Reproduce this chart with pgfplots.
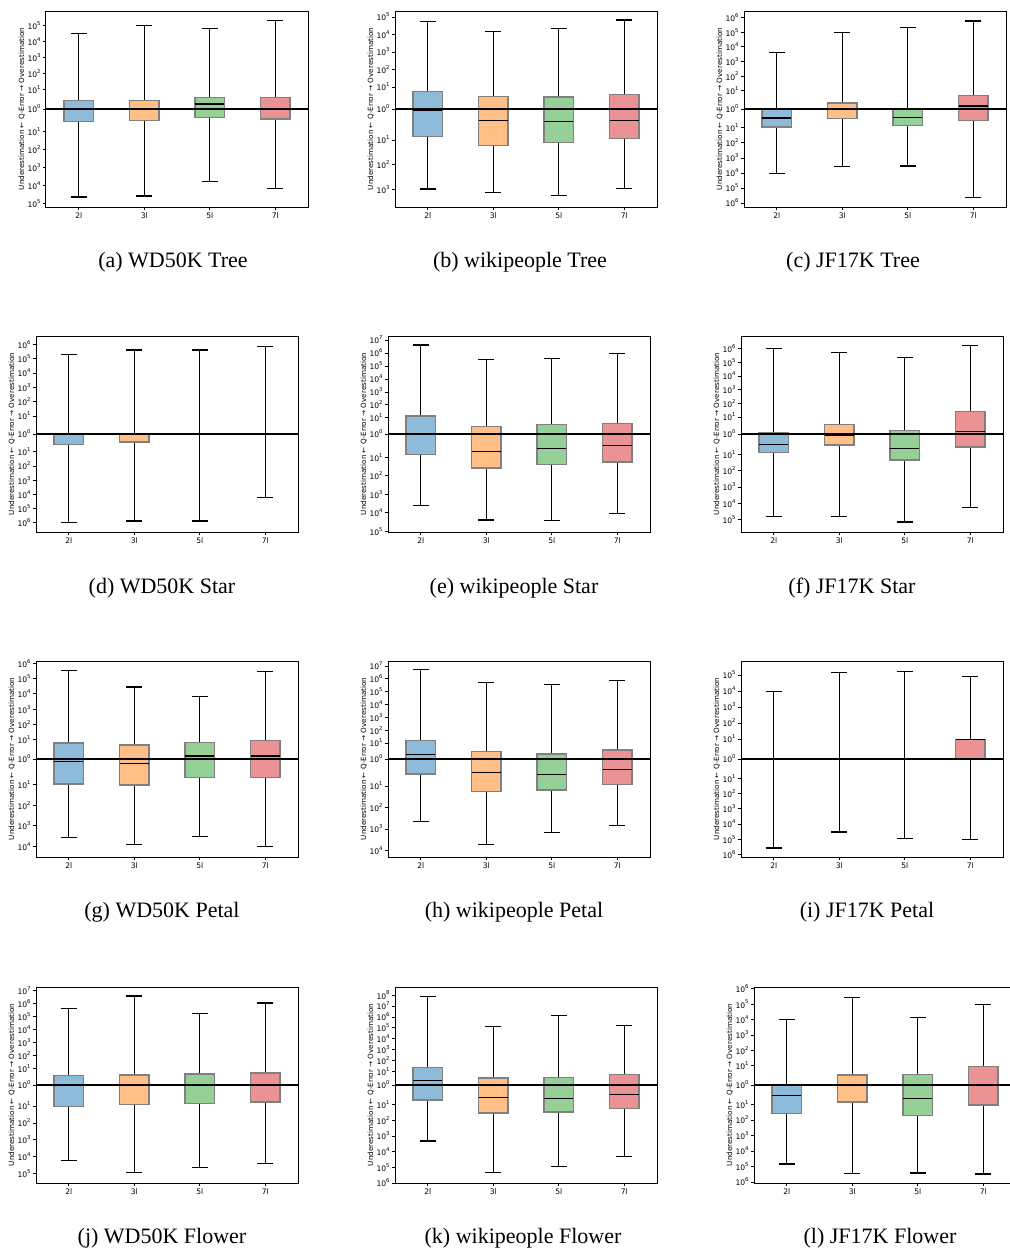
\documentclass[border=0pt]{standalone}
\usepackage{fontspec}
\setmainfont{Liberation Serif}
\newfontfamily\dv{DejaVu Sans}
\usepackage{pgfplots}
\pgfplotsset{compat=1.18}

\definecolor{cb}{RGB}{143,187,218}
\definecolor{co}{RGB}{255,191,134}
\definecolor{cg}{RGB}{150,208,150}
\definecolor{cred}{RGB}{235,147,148}

% values are signed log10 of the q-error (negative = underestimation)
% upper and lower halves of each panel are scaled separately (\Tu, \Tl)
\pgfplotsset{
  qax/.style={
    width=131pt, height=98pt, scale only axis, anchor=north west,
    xmin=0.5, xmax=4.5, xtick={1,2,3,4}, xticklabels={2l,3l,5l,7l},
    tick align=outside, tick pos=left, major tick length=1.4pt,
    tick style={black, line width=0.35pt},
    axis line style={line width=0.5pt},
    ticklabel style={font=\dv\fontsize{3.8}{4}\selectfont, inner sep=0.6pt},
    xticklabel style={inner sep=1.2pt},
    ylabel={Underestimation ← Q-Error → Overestimation},
    ylabel style={font=\dv\fontsize{3.6}{4}\selectfont, inner sep=0.5pt},
    y coord trafo/.code={\pgfmathparse{((##1)>=1)*((##1)+0.25)/\Tu+((##1)>=0)*((##1)<1)*1.25*(##1)/\Tu+((##1)<0)*((##1)+1>0)*1.25*(##1)/\Tl+((##1)+1<=0)*((##1)-0.25)/\Tl}},
  },
  qticks/.style 2 args={ytick={-#1,...,#2},
    yticklabel={\pgfmathtruncatemacro\k{abs(\ticknum-#1)}10\textsuperscript{\k}}},
}

\newcommand\qbox[7]{%
  \pgfmathsetmacro\bxl{#1-0.225}\pgfmathsetmacro\bxr{#1+0.225}%
  \pgfmathsetmacro\capl{#1-0.125}\pgfmathsetmacro\capr{#1+0.125}%
  \addplot[black, line width=0.6pt] coordinates {(#1,#2) (#1,#3)};
  \addplot[black, line width=0.6pt] coordinates {(#1,#5) (#1,#6)};
  \addplot[black, line width=0.6pt] coordinates {(\capl,#2) (\capr,#2)};
  \addplot[black, line width=0.6pt] coordinates {(\capl,#6) (\capr,#6)};
  \addplot[draw=black!50, line width=0.7pt, fill=#7] coordinates {(\bxl,#3) (\bxr,#3) (\bxr,#5) (\bxl,#5)} -- cycle;
  \addplot[black, line width=0.6pt] coordinates {(\bxl,#4) (\bxr,#4)};
}
\newcommand\zeroline{\addplot[black, line width=0.6pt] coordinates {(0.5,0) (4.5,0)};}

\begin{document}
\begin{tikzpicture}
\useasboundingbox (0,0) rectangle (505pt,-627pt);

% (a)
\def\Tu{6.18}\def\Tl{5.43}
\begin{axis}[qax, at={(23pt,-5.5pt)}, ymin=-5.18, ymax=5.93, qticks={5}{5}]
\qbox{1}{-4.62}{-0.55}{0}{0.44}{4.52}{cb}
\qbox{2}{-4.57}{-0.51}{0}{0.44}{5.03}{co}
\qbox{3}{-3.75}{-0.37}{0.25}{0.59}{4.84}{cg}
\qbox{4}{-4.16}{-0.45}{0}{0.59}{5.32}{cred}
\zeroline
\end{axis}

% (b)
\def\Tu{5.59}\def\Tl{3.97}
\begin{axis}[qax, at={(197.5pt,-5.5pt)}, ymin=-3.72, ymax=5.34, qticks={3}{5}]
\qbox{1}{-2.99}{-0.90}{-0.05}{0.79}{4.72}{cb}
\qbox{2}{-3.14}{-1.23}{-0.36}{0.56}{4.17}{co}
\qbox{3}{-3.25}{-1.10}{-0.40}{0.55}{4.36}{cg}
\qbox{4}{-2.97}{-0.95}{-0.36}{0.65}{4.83}{cred}
\zeroline
\end{axis}

% (c)
\def\Tu{6.70}\def\Tl{6.52}
\begin{axis}[qax, at={(372pt,-5.5pt)}, ymin=-6.27, ymax=6.45, qticks={6}{6}]
\qbox{1}{-4.06}{-0.96}{-0.48}{0}{3.61}{cb}
\qbox{2}{-3.59}{-0.52}{0}{0.33}{4.98}{co}
\qbox{3}{-3.54}{-0.89}{-0.45}{0}{5.30}{cg}
\qbox{4}{-5.62}{-0.61}{0.16}{0.75}{5.77}{cred}
\zeroline
\end{axis}

% (d)
\def\Tu{6.83}\def\Tl{6.91}
\begin{axis}[qax, at={(18pt,-168pt)}, ymin=-6.66, ymax=6.58, qticks={6}{6}]
\qbox{1}{-6.00}{-0.59}{0}{0}{5.31}{cb}
\qbox{2}{-5.88}{-0.45}{0}{0}{5.61}{co}
\qbox{3}{-5.88}{0}{0}{0}{5.61}{cg}
\qbox{4}{-4.22}{0}{0}{0}{5.86}{cred}
\zeroline
\end{axis}

% (e)
\def\Tu{7.56}\def\Tl{5.29}
\begin{axis}[qax, at={(194pt,-168pt)}, ymin=-5.04, ymax=7.31, qticks={5}{7}]
\qbox{1}{-3.63}{-0.88}{-0.03}{1.14}{6.62}{cb}
\qbox{2}{-4.39}{-1.58}{-0.75}{0.47}{5.47}{co}
\qbox{3}{-4.44}{-1.38}{-0.64}{0.60}{5.57}{cg}
\qbox{4}{-4.04}{-1.27}{-0.51}{0.66}{5.96}{cred}
\zeroline
\end{axis}

% (f)
\def\Tu{7.18}\def\Tl{6.01}
\begin{axis}[qax, at={(370.5pt,-168pt)}, ymin=-5.76, ymax=6.93, qticks={5}{6}]
\qbox{1}{-4.83}{-0.91}{-0.53}{0.08}{6.00}{cb}
\qbox{2}{-4.81}{-0.53}{-0.08}{0.56}{5.71}{co}
\qbox{3}{-5.14}{-1.35}{-0.72}{0.21}{5.37}{cg}
\qbox{4}{-4.28}{-0.64}{0.14}{1.40}{6.25}{cred}
\zeroline
\end{axis}

% (g)
\def\Tu{6.39}\def\Tl{4.77}
\begin{axis}[qax, at={(18pt,-330.5pt)}, ymin=-4.52, ymax=6.14, qticks={4}{6}]
\qbox{1}{-3.56}{-0.98}{-0.10}{0.83}{5.53}{cb}
\qbox{2}{-3.92}{-1.02}{-0.18}{0.73}{4.45}{co}
\qbox{3}{-3.52}{-0.72}{0.16}{0.86}{3.80}{cg}
\qbox{4}{-4.00}{-0.72}{0.16}{0.97}{5.44}{cred}
\zeroline
\end{axis}

% (h)
\def\Tu{7.64}\def\Tl{4.56}
\begin{axis}[qax, at={(194pt,-330.5pt)}, ymin=-4.31, ymax=7.39, qticks={4}{7}]
\qbox{1}{-2.64}{-0.56}{0.27}{1.20}{6.72}{cb}
\qbox{2}{-3.73}{-1.27}{-0.49}{0.48}{5.73}{co}
\qbox{3}{-3.17}{-1.20}{-0.59}{0.31}{5.58}{cg}
\qbox{4}{-2.84}{-0.95}{-0.38}{0.56}{5.86}{cred}
\zeroline
\end{axis}

% (i)
\def\Tu{6.12}\def\Tl{6.40}
\begin{axis}[qax, at={(370.5pt,-330.5pt)}, ymin=-6.15, ymax=5.87, qticks={6}{5}]
\qbox{1}{-5.56}{0}{0}{0}{3.98}{cb}
\qbox{2}{-4.51}{0}{0}{0}{5.14}{co}
\qbox{3}{-4.95}{0}{0}{0}{5.21}{cg}
\qbox{4}{-5.01}{0}{0.96}{0.96}{4.92}{cred}
\zeroline
\end{axis}

% (j)
\def\Tu{7.51}\def\Tl{5.82}
\begin{axis}[qax, at={(18pt,-493.5pt)}, ymin=-5.57, ymax=7.26, qticks={5}{7}]
\qbox{1}{-4.22}{-1.02}{0}{0.57}{5.62}{cb}
\qbox{2}{-4.94}{-0.93}{0}{0.62}{6.57}{co}
\qbox{3}{-4.66}{-0.87}{0}{0.68}{5.26}{cg}
\qbox{4}{-4.42}{-0.81}{0}{0.74}{6.03}{cred}
\zeroline
\end{axis}

% (k)
\def\Tu{8.99}\def\Tl{6.26}
\begin{axis}[qax, at={(197.5pt,-493.5pt)}, ymin=-6.01, ymax=8.74, qticks={6}{8}]
\qbox{1}{-3.33}{-0.77}{0.32}{1.37}{7.89}{cb}
\qbox{2}{-5.32}{-1.53}{-0.63}{0.51}{5.12}{co}
\qbox{3}{-4.97}{-1.48}{-0.67}{0.54}{6.15}{cg}
\qbox{4}{-4.33}{-1.25}{-0.50}{0.78}{5.21}{cred}
\zeroline
\end{axis}

% (l)
\def\Tu{6.36}\def\Tl{6.32}
\begin{axis}[qax, at={(377pt,-493.5pt)}, ymin=-6.07, ymax=6.11, qticks={6}{6}]
\qbox{1}{-4.84}{-1.57}{-0.55}{0}{4.02}{cb}
\qbox{2}{-5.46}{-0.88}{0}{0.52}{5.45}{co}
\qbox{3}{-5.42}{-1.70}{-0.71}{0.54}{4.13}{cg}
\qbox{4}{-5.49}{-1.03}{0}{0.95}{4.96}{cred}
\zeroline
\end{axis}

\begin{scope}[every node/.style={font=\fontsize{11}{13}\selectfont}]
\node at (86.5pt,-131pt) {(a) WD50K Tree};
\node at (260pt,-131pt) {(b) wikipeople Tree};
\node at (426.5pt,-131pt) {(c) JF17K Tree};
\node at (81pt,-294pt) {(d) WD50K Star};
\node at (257pt,-294pt) {(e) wikipeople Star};
\node at (426pt,-294pt) {(f) JF17K Star};
\node at (81pt,-456pt) {(g) WD50K Petal};
\node at (257pt,-456pt) {(h) wikipeople Petal};
\node at (433.5pt,-456pt) {(i) JF17K Petal};
\node at (81pt,-619pt) {(j) WD50K Flower};
\node at (261.5pt,-619pt) {(k) wikipeople Flower};
\node at (440pt,-619pt) {(l) JF17K Flower};
\end{scope}
\end{tikzpicture}
\end{document}
